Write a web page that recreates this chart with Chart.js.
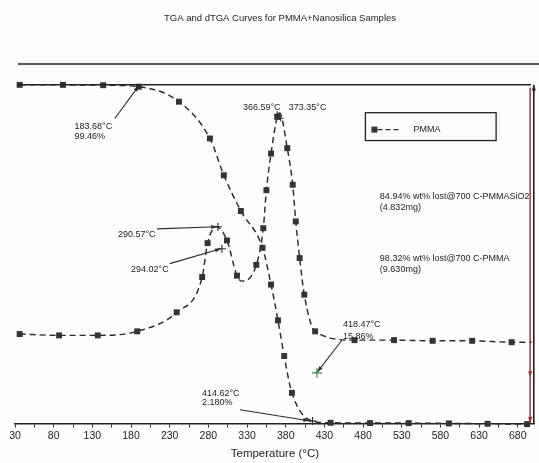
<!DOCTYPE html>
<html>
<head>
<meta charset="utf-8">
<script src="https://cdn.jsdelivr.net/npm/chart.js@4.4.0/dist/chart.umd.min.js"></script>
<style>
  html, body { margin: 0; padding: 0; background: #fdfdfd; }
  #wrap { width: 539px; height: 463px; }
</style>
</head>
<body>
<div id="wrap"><canvas id="tgaChart" width="539" height="463"></canvas></div>
<script>
// TGA curve of PMMA (weight %)
const tgaTemps  = [36, 92, 144, 190, 242, 282, 300, 322, 350, 361, 370, 378, 388, 414.62, 438, 489, 539, 591, 641, 692];
const tgaWeight = [100, 100, 99.9, 99.46, 95.1, 84.4, 73.7, 63.3, 52.6, 41.9, 31.5, 21.1, 10.4, 2.18, 1.7, 1.6, 1.6, 1.5, 1.4, 1.3];

// dTGA curve (derivative, arbitrary units – no axis in the original)
const dtgaTemps = [36, 87, 137, 188, 239, 272, 279, 290.57, 304, 317, 323, 342, 351, 355, 361, 369, 372, 382, 389, 393, 398, 404, 418, 469, 520, 570, 621, 672, 698];
const dtgaRate  = [0.01, 0, 0, 0.03, 0.17, 0.43, 0.68, 0.80, 0.70, 0.44, 0.40, 0.52, 0.79, 1.07, 1.34, 1.61, 1.64, 1.38, 1.11, 0.84, 0.57, 0.30, 0.03, -0.035, -0.035, -0.04, -0.04, -0.05, -0.05];

// x axis labels
const xTickLabels = [30, 80, 130, 180, 230, 280, 330, 380, 430, 480, 530, 580, 630, 680];

const FONT = "'Liberation Sans', Arial, sans-serif";
const INK = '#1c1c1c';

// points drawn without a square marker
const tgaPlain = [13];
const dtgaPlain = [7, 10, 16, 28];

const notes = {
  id: 'notes',
  afterDraw(chart) {
    const { ctx, chartArea: a, scales } = chart;
    const X = v => scales.x.getPixelForValue(v);
    const Y = v => scales.y.getPixelForValue(v);
    const Y2 = v => scales.y2.getPixelForValue(v);

    const text = (s, x, y, size = 9, align = 'left') => {
      ctx.font = size + 'px ' + FONT;
      ctx.fillStyle = INK;
      ctx.textAlign = align;
      ctx.textBaseline = 'middle';
      ctx.fillText(s, x, y);
    };
    const head = (x1, y1, x2, y2, L = 6) => {
      const ang = Math.atan2(y2 - y1, x2 - x1);
      ctx.beginPath();
      ctx.moveTo(x2, y2);
      ctx.lineTo(x2 - L * Math.cos(ang - 0.35), y2 - L * Math.sin(ang - 0.35));
      ctx.lineTo(x2 - L * Math.cos(ang + 0.35), y2 - L * Math.sin(ang + 0.35));
      ctx.closePath();
      ctx.fill();
    };
    const arrow = (x1, y1, x2, y2, color = '#2a2a2a') => {
      ctx.strokeStyle = color; ctx.fillStyle = color; ctx.lineWidth = 1.1;
      ctx.beginPath(); ctx.moveTo(x1, y1); ctx.lineTo(x2, y2); ctx.stroke();
      head(x1, y1, x2, y2);
    };
    const cross = (x, y, color = '#2a2a2a', s = 4) => {
      ctx.strokeStyle = color; ctx.lineWidth = 1.1;
      ctx.beginPath();
      ctx.moveTo(x - s, y); ctx.lineTo(x + s, y);
      ctx.moveTo(x, y - s); ctx.lineTo(x, y + s);
      ctx.stroke();
    };

    ctx.save();
    // title
    text('TGA and dTGA Curves for PMMA+Nanosilica Samples', 280, 18, 9.5, 'center');

    // top frame line and 100 % line
    ctx.strokeStyle = '#222';
    ctx.lineWidth = 1.3;
    ctx.beginPath(); ctx.moveTo(a.left + 3, a.top); ctx.lineTo(chart.width, a.top); ctx.stroke();
    ctx.lineWidth = 1.5;
    ctx.beginPath(); ctx.moveTo(X(34), Y(100)); ctx.lineTo(X(697), Y(100)); ctx.stroke();

    // weight-loss arrows on the right
    ctx.strokeStyle = '#222'; ctx.fillStyle = '#222'; ctx.lineWidth = 1.6;
    ctx.beginPath(); ctx.moveTo(X(700.7), Y(100)); ctx.lineTo(X(700.7), Y(1.6)); ctx.stroke();
    head(X(700.7), Y(50), X(700.7), Y(100));
    ctx.strokeStyle = '#9e2636'; ctx.fillStyle = '#9e2636'; ctx.lineWidth = 1.4;
    ctx.beginPath(); ctx.moveTo(X(696), Y(99.2)); ctx.lineTo(X(696), Y(1.7)); ctx.stroke();
    head(X(696), Y(60), X(696), Y(15.06));
    head(X(696), Y(30), X(696), Y(1.7));

    // annotations
    text('183.68°C', X(107), Y(88.0));
    text('99.46%', X(107), Y(85.1));
    arrow(X(159), Y(90.2), X(190), Y(99.7));

    text('366.59°C', X(324.6), Y(93.4));
    text('373.35°C', X(384), Y(93.4));
    cross(X(369), Y2(1.63), '#2a2a2a', 3);
    cross(X(373.4), Y2(1.60), '#2a2a2a', 3);

    text('290.57°C', X(163), Y(56.4));
    arrow(X(213.5), Y(58.1), X(291), Y(58.7));
    cross(X(292.3), Y(58.7));
    text('294.02°C', X(180), Y(46.4));
    arrow(X(230.3), Y(48.0), X(296), Y(52.3));
    cross(X(297.5), Y(52.3));

    text('84.94% wt% lost@700 C-PMMASiO2', X(501.7), Y(67.6));
    text('(4.832mg)', X(501.7), Y(64.2));
    text('98.32% wt% lost@700 C-PMMA', X(501.7), Y(49.4));
    text('(9.630mg)', X(501.7), Y(46.2));

    text('418.47°C', X(454), Y(30.4));
    text('15.86%', X(454), Y(26.9));
    arrow(X(452.6), Y(25.7), X(421), Y(16.5));
    cross(X(420.3), Y(16.2), '#3b8a3b', 5);

    text('414.62°C', X(271.7), Y(10.1));
    text('2.180%', X(271.7), Y(7.5));
    arrow(X(320.8), Y(5.5), X(410), Y(2.3));
    cross(X(414.62), Y(2.18));

    // legend box
    const lx1 = X(483), lx2 = X(652), ly1 = Y(91.9), ly2 = Y(83.8);
    ctx.strokeStyle = '#222'; ctx.lineWidth = 1.3;
    ctx.strokeRect(lx1, ly1, lx2 - lx1, ly2 - ly1);
    const my = (ly1 + ly2) / 2 + 3;
    ctx.fillStyle = '#333';
    ctx.fillRect(lx1 + 6, my - 3, 6, 6);
    ctx.setLineDash([5, 3]); ctx.lineWidth = 1.3; ctx.strokeStyle = '#2a2a2a';
    ctx.beginPath(); ctx.moveTo(lx1 + 12, my); ctx.lineTo(lx1 + 36, my); ctx.stroke();
    ctx.setLineDash([]);
    text('PMMA', lx1 + 48, my, 9);
    ctx.restore();
  }
};

const lineStyle = (plain) => ({
  borderColor: '#2a2a2a',
  borderWidth: 1.45,
  borderDash: [6, 4],
  backgroundColor: '#333',
  pointStyle: 'rect',
  pointRadius: c => plain.includes(c.dataIndex) ? 0 : 4.2,
  pointBorderWidth: 0,
  pointBackgroundColor: '#333',
  cubicInterpolationMode: 'monotone',
  fill: false,
  clip: false
});

new Chart(document.getElementById('tgaChart'), {
  type: 'line',
  data: {
    datasets: [
      Object.assign({
        label: 'PMMA',
        yAxisID: 'y',
        data: tgaTemps.map((t, i) => ({ x: t, y: tgaWeight[i] }))
      }, lineStyle(tgaPlain)),
      Object.assign({
        label: 'PMMA dTGA',
        yAxisID: 'y2',
        data: dtgaTemps.map((t, i) => ({ x: t, y: dtgaRate[i] }))
      }, lineStyle(dtgaPlain))
    ]
  },
  options: {
    responsive: false,
    animation: false,
    layout: { padding: { left: 15, right: 4, top: 64, bottom: 2 } },
    plugins: { legend: { display: false }, tooltip: { enabled: false }, title: { display: false } },
    scales: {
      x: {
        type: 'linear',
        min: 30,
        max: 702,
        afterBuildTicks: s => {
          s.ticks = [];
          xTickLabels.forEach((v, i) => {
            s.ticks.push({ value: v });
            if (i < xTickLabels.length - 1) s.ticks.push({ value: (v + xTickLabels[i + 1]) / 2 });
          });
        },
        ticks: {
          autoSkip: false,
          maxRotation: 0,
          padding: 2,
          color: INK,
          font: { family: FONT, size: 10.5 },
          callback: v => xTickLabels.includes(v) ? String(v) : ''
        },
        grid: { drawOnChartArea: false, drawTicks: true, tickLength: 4, color: '#333' },
        border: { color: '#222', width: 1.4 },
        title: {
          display: true,
          text: 'Temperature (°C)',
          color: INK,
          font: { family: FONT, size: 11.5 },
          padding: { top: 3, bottom: 0 }
        }
      },
      y: { display: false, min: 1.45, max: 106.07 },
      y2: { display: false, min: -0.65, max: 2.0 }
    }
  },
  plugins: [notes]
});
</script>
</body>
</html>
